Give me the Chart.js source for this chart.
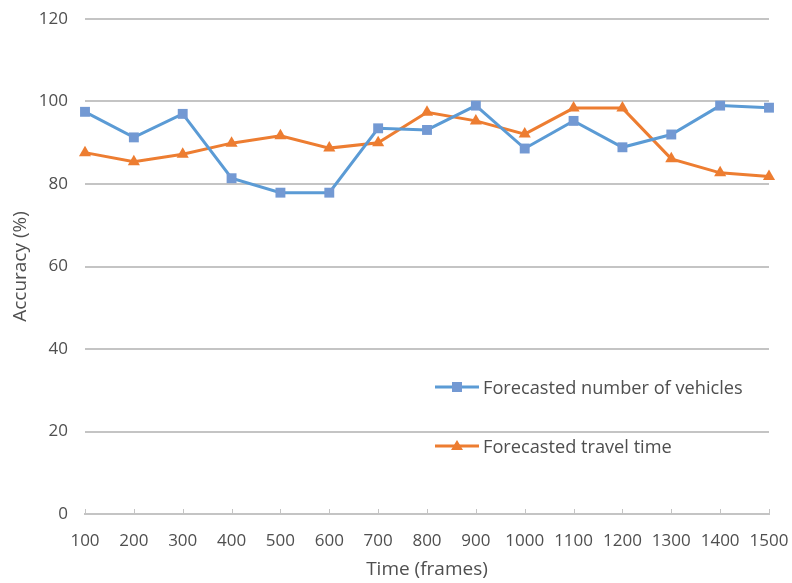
<!DOCTYPE html>
<html>
<head>
<meta charset="utf-8">
<script src="https://cdn.jsdelivr.net/npm/chart.js@4/dist/chart.umd.min.js"></script>
<style>
  html, body { margin: 0; padding: 0; background: #fff; }
  #wrap { position: relative; width: 792px; height: 583px; }
  #legend {
    position: absolute; left: 435px; top: 374px;
    font-family: "Open Sans", sans-serif; font-size: 18.2px; color: #4f4f4f;
  }
  .item { display: flex; align-items: center; height: 26px; }
  .item + .item { margin-top: 33px; }
  .item svg { margin-right: 4px; }
</style>
</head>
<body>
<div id="wrap">
  <canvas id="chart" width="792" height="583"></canvas>
  <div id="legend"></div>
</div>
<script>
  // ---------- data ----------
  const frames = ["100", "200", "300", "400", "500", "600", "700", "800",
    "900", "1000", "1100", "1200", "1300", "1400", "1500"];
  const vehicles = [97.5, 91.3, 97.0, 81.4, 77.9, 77.9, 93.5, 93.1,
    99.0, 88.6, 95.3, 88.9, 92.0, 99.0, 98.5];
  const travelTime = [87.6, 85.4, 87.2, 89.9, 91.7, 88.7, 90.0, 97.4,
    95.3, 92.1, 98.4, 98.4, 86.1, 82.7, 81.8];
  const yTicks = [0, 20, 40, 60, 80, 100, 120];

  const TEXT = "#4f4f4f";
  const GRID = "#c4c4c4";
  const FONT = "'Open Sans', sans-serif";

  const datasets = [
    {
      label: "Forecasted number of vehicles",
      data: vehicles,
      borderColor: "#5b9bd5",
      backgroundColor: "#7399d3",
      pointBackgroundColor: "#7399d3",
      pointBorderWidth: 0,
      pointStyle: "rect",
      pointRadius: 7,
      borderWidth: 3,
      tension: 0,
    },
    {
      label: "Forecasted travel time",
      data: travelTime,
      borderColor: "#ed7d31",
      backgroundColor: "#ed7d31",
      pointBackgroundColor: "#ed7d31",
      pointBorderWidth: 0,
      pointStyle: "triangle",
      pointRadius: 7,
      borderWidth: 3,
      tension: 0,
    },
  ];

  // small tick marks pointing up from the x axis line
  const innerTicks = {
    id: "innerTicks",
    beforeDatasetsDraw(chart) {
      const x = chart.scales.x;
      const ctx = chart.ctx;
      ctx.save();
      ctx.strokeStyle = GRID;
      ctx.lineWidth = 1;
      x.ticks.forEach((t, i) => {
        const px = Math.round(x.getPixelForTick(i)) + 0.5;
        ctx.beginPath();
        ctx.moveTo(px, x.top);
        ctx.lineTo(px, x.top - 5);
        ctx.stroke();
      });
      ctx.restore();
    },
  };

  const chart = new Chart(document.getElementById("chart"), {
    type: "line",
    data: { labels: frames, datasets: datasets },
    plugins: [innerTicks],
    options: {
      responsive: false,
      animation: false,
      layout: { padding: { top: 19, right: 23, bottom: 0, left: 0 } },
      plugins: { legend: { display: false }, tooltip: { enabled: false } },
      scales: {
        x: {
          offset: false,
          afterFit: (s) => { s.height = 69; },
          grid: {
            drawOnChartArea: false,
            drawTicks: true,
            tickLength: 17,
            tickColor: "rgba(0,0,0,0)",
          },
          border: { display: true, color: GRID, width: 2 },
          ticks: {
            color: TEXT,
            font: { family: FONT, size: 17 },
            padding: 0,
            maxRotation: 0,
            autoSkip: false,
          },
          title: {
            display: true,
            text: "Time (frames)",
            color: TEXT,
            font: { family: FONT, size: 19 },
            padding: { top: 0, bottom: 2 },
          },
        },
        y: {
          min: 0,
          max: 120,
          afterFit: (s) => { s.width = 85; },
          afterBuildTicks: (s) => { s.ticks = yTicks.map((v) => ({ value: v })); },
          grid: {
            color: GRID,
            lineWidth: 2,
            drawTicks: true,
            tickLength: 17,
            tickColor: "rgba(0,0,0,0)",
          },
          border: { display: false },
          ticks: {
            color: TEXT,
            font: { family: FONT, size: 17 },
            padding: 0,
          },
          title: {
            display: true,
            text: "Accuracy (%)",
            color: TEXT,
            font: { family: FONT, size: 19 },
            padding: { top: 9, bottom: 0 },
          },
        },
      },
    },
  });

  // ---------- legend (inside plot area) ----------
  function markerSvg(ds) {
    const c = ds.pointBackgroundColor;
    const shape = ds.pointStyle === "rect"
      ? `<rect x="17" y="2" width="10" height="10" fill="${c}"/>`
      : `<polygon points="22,1 28,11 16,11" fill="${c}"/>`;
    return `<svg width="44" height="14"><line x1="0" y1="7" x2="44" y2="7" stroke="${ds.borderColor}" stroke-width="3"/>${shape}</svg>`;
  }
  document.getElementById("legend").innerHTML = chart.data.datasets
    .map((ds) => `<div class="item">${markerSvg(ds)}<span>${ds.label}</span></div>`)
    .join("");
</script>
</body>
</html>
